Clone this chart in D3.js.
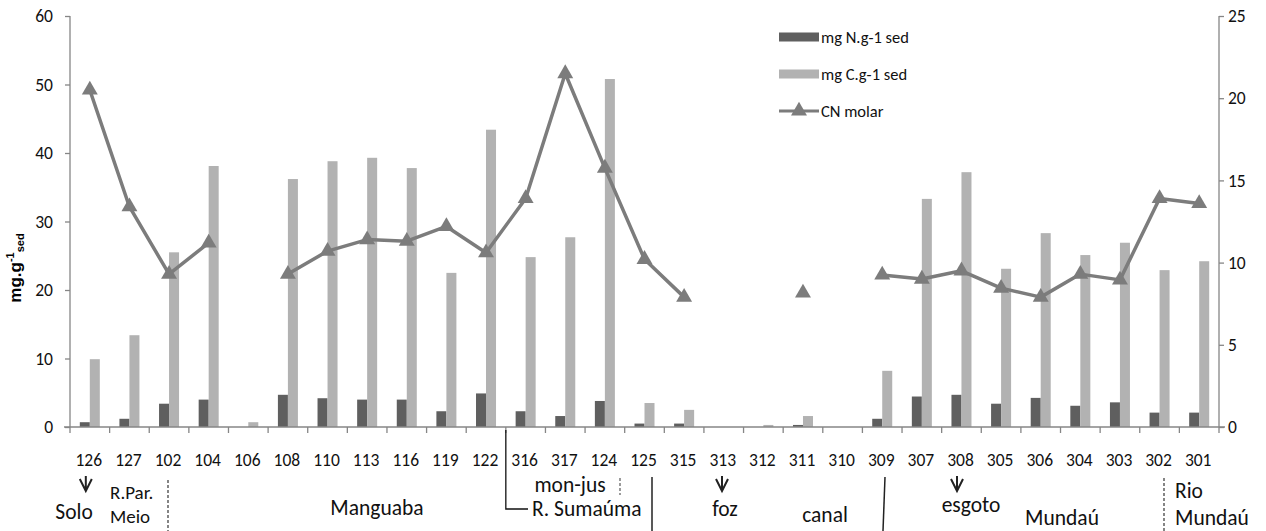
<!DOCTYPE html>
<html><head><meta charset="utf-8">
<script src="https://cdn.jsdelivr.net/npm/d3@7"></script>
<style>
html,body{margin:0;padding:0;background:#fff;}
svg{display:block;font-family:Carlito,Lato,"Liberation Sans",sans-serif;}
</style></head><body>
<svg id="c" width="1266" height="531"></svg>
<script>
const categories = ["126","127","102","104","106","108","110","113","116","119","122","316","317","124","125","315","313","312","311","310","309","307","308","305","306","304","303","302","301"];
const nValues = [0.7,1.2,3.4,4.0,0,4.7,4.2,4.0,4.0,2.3,4.9,2.3,1.6,3.8,0.5,0.5,0,0,0.3,0,1.2,4.45,4.7,3.4,4.25,3.1,3.6,2.1,2.1];
const cValues = [9.9,13.4,25.5,38.1,0.7,36.2,38.8,39.3,37.8,22.5,43.4,24.8,27.7,50.8,3.5,2.5,0,0.3,1.6,0,8.2,33.3,37.2,23.1,28.3,25.1,26.9,22.9,24.2];
const cnMolar = [20.5,13.4,9.3,11.2,null,9.3,10.7,11.4,11.3,12.2,10.6,13.9,21.5,15.75,10.2,7.9,null,null,8.15,null,9.25,9.0,9.5,8.45,7.9,9.3,8.95,13.9,13.6];
const seriesNames = ["mg N.g-1 sed","mg C.g-1 sed","CN molar"];
const leftTicks = [0,10,20,30,40,50,60];
const rightTicks = [0,5,10,15,20,25];

const svg = d3.select("#c");
const L = 70, R = 1219, T = 16, B = 427;
const axisColor = "#868686", nColor = "#5f5f5f", cColor = "#b2b2b2", lineColor = "#7c7c7c";

const x = d3.scaleBand().domain(categories).range([L, R]);
const xi = d3.scaleBand().domain(["N","C"]).range([0, x.bandwidth()]).paddingOuter(0.98);
const yL = d3.scaleLinear().domain([0,60]).range([B, T]);
const yR = d3.scaleLinear().domain([0,25]).range([B, T]);

// bars
const rows = categories.map((c,i)=>({c, N:nValues[i], C:cValues[i], cn:cnMolar[i]}));
const g = svg.append("g");
g.selectAll("rect.n").data(rows).join("rect").attr("class","n")
  .attr("x", d=>x(d.c)+xi("N")).attr("width", xi.bandwidth())
  .attr("y", d=>yL(d.N)).attr("height", d=>B-yL(d.N)).attr("fill", nColor);
g.selectAll("rect.cc").data(rows).join("rect").attr("class","cc")
  .attr("x", d=>x(d.c)+xi("C")).attr("width", xi.bandwidth())
  .attr("y", d=>yL(d.C)).attr("height", d=>B-yL(d.C)).attr("fill", cColor);

// axes
const axL = svg.append("g").attr("transform",`translate(${L},0)`)
  .call(d3.axisLeft(yL).tickValues(leftTicks).tickSize(5).tickPadding(12));
const axR = svg.append("g").attr("transform",`translate(${R},0)`)
  .call(d3.axisRight(yR).tickValues(rightTicks).tickSize(5).tickPadding(4));
[axL,axR].forEach(a=>{
  a.select(".domain").attr("stroke",axisColor).attr("stroke-width",1.3).attr("d",`M0,${T}V${B}`);
  a.selectAll(".tick line").attr("stroke",axisColor).attr("stroke-width",1.3);
  a.selectAll("text").attr("font-size",17.5).attr("fill","#111").attr("font-family","Carlito,Lato,sans-serif");
});
// x axis
const axB = svg.append("g");
axB.append("line").attr("x1",L-6).attr("x2",R+6).attr("y1",B).attr("y2",B).attr("stroke",axisColor).attr("stroke-width",1.3);
axB.selectAll("line.t").data(categories.concat(["end"])).join("line").attr("class","t")
  .attr("x1",(d,i)=>L+i*x.step()).attr("x2",(d,i)=>L+i*x.step())
  .attr("y1",B).attr("y2",B+6).attr("stroke",axisColor).attr("stroke-width",1.3);
axB.selectAll("text").data(categories).join("text")
  .attr("x",d=>x(d)+x.bandwidth()/2-1).attr("y",466).attr("text-anchor","middle")
  .attr("font-size",17.5).attr("fill","#111").text(d=>d);

// CN line
const line = d3.line().defined(d=>d.cn!==null).x(d=>x(d.c)+x.bandwidth()/2).y(d=>yR(d.cn));
svg.append("path").datum(rows).attr("d",line).attr("fill","none")
  .attr("stroke",lineColor).attr("stroke-width",3.5).attr("stroke-linejoin","round");
const tri = d3.symbol().type(d3.symbolTriangle).size(110);
svg.selectAll("path.m").data(rows.filter(d=>d.cn!==null)).join("path").attr("class","m")
  .attr("d",tri).attr("transform",d=>`translate(${x(d.c)+x.bandwidth()/2},${yR(d.cn)})`)
  .attr("fill",lineColor);

// y title
const yt = svg.append("text").attr("transform","translate(21,268) rotate(-90)")
  .attr("text-anchor","middle").attr("font-family","'Liberation Sans',Arial,sans-serif")
  .attr("font-weight","bold").attr("font-size",17).attr("fill","#000");
yt.append("tspan").text("mg.g");
yt.append("tspan").attr("dy",-7).attr("font-size",11).text("-1");
yt.append("tspan").attr("dy",10).attr("font-size",11).text("sed");

// legend
const lg = svg.append("g").attr("transform","translate(779,0)");
const ly = [37,74,111];
lg.append("rect").attr("x",0).attr("y",ly[0]-4.5).attr("width",40).attr("height",9).attr("fill",nColor);
lg.append("rect").attr("x",0).attr("y",ly[1]-4.5).attr("width",40).attr("height",9).attr("fill",cColor);
lg.append("line").attr("x1",0).attr("x2",40).attr("y1",ly[2]).attr("y2",ly[2]).attr("stroke",lineColor).attr("stroke-width",3);
lg.append("path").attr("d",tri).attr("transform",`translate(20,${ly[2]})`).attr("fill",lineColor);
lg.selectAll("text").data(seriesNames).join("text").attr("x",42).attr("y",(d,i)=>ly[i]+5.5)
  .attr("font-size",16.5).attr("fill","#111").text(d=>d);

// annotations
const an = svg.append("g").attr("fill","#111").attr("font-size",21.5);
const arrow = (cx)=>{
  an.append("path").attr("d",`M${cx-6},${479}L${cx},${491}L${cx+6},${479}M${cx},${476}V${491}`)
    .attr("stroke","#222").attr("stroke-width",2).attr("fill","none");
};
arrow(x("126")+x.bandwidth()/2-4); arrow(722); arrow(957);
const txt = (t,xx,yy,anchor)=>an.append("text").attr("x",xx).attr("y",yy).attr("text-anchor",anchor||"middle").text(t);
txt("Solo",74,519);
txt("R.Par.",110,499,"start").attr("font-size",19);
txt("Meio",110,523,"start").attr("font-size",19);
txt("Manguaba",377,515);
txt("mon-jus",570,492);
txt("R. Sumaúma",532,516,"start");
txt("foz",725,516);
txt("canal",825,522);
txt("esgoto",971,512);
txt("Mundaú",1062,525);
txt("Rio",1175,498,"start");
txt("Mundaú",1175,525,"start");
const ln = svg.append("g").attr("fill","none");
ln.append("path").attr("d",`M${L+11*x.step()},${B+3}V509H528`).attr("stroke","#111").attr("stroke-width",1.3);
ln.append("path").attr("d","M652,477V531").attr("stroke","#222").attr("stroke-width",1.5);
ln.append("path").attr("d","M885,477L883,531").attr("stroke","#222").attr("stroke-width",1.5);
ln.append("path").attr("d","M168,480V531").attr("stroke","#444").attr("stroke-width",1.3).attr("stroke-dasharray","3,2");
ln.append("path").attr("d","M620,478V495").attr("stroke","#666").attr("stroke-width",1.3).attr("stroke-dasharray","3,2");
ln.append("path").attr("d","M1164,478V531").attr("stroke","#444").attr("stroke-width",1.3).attr("stroke-dasharray","3,2");
</script>
</body></html>
